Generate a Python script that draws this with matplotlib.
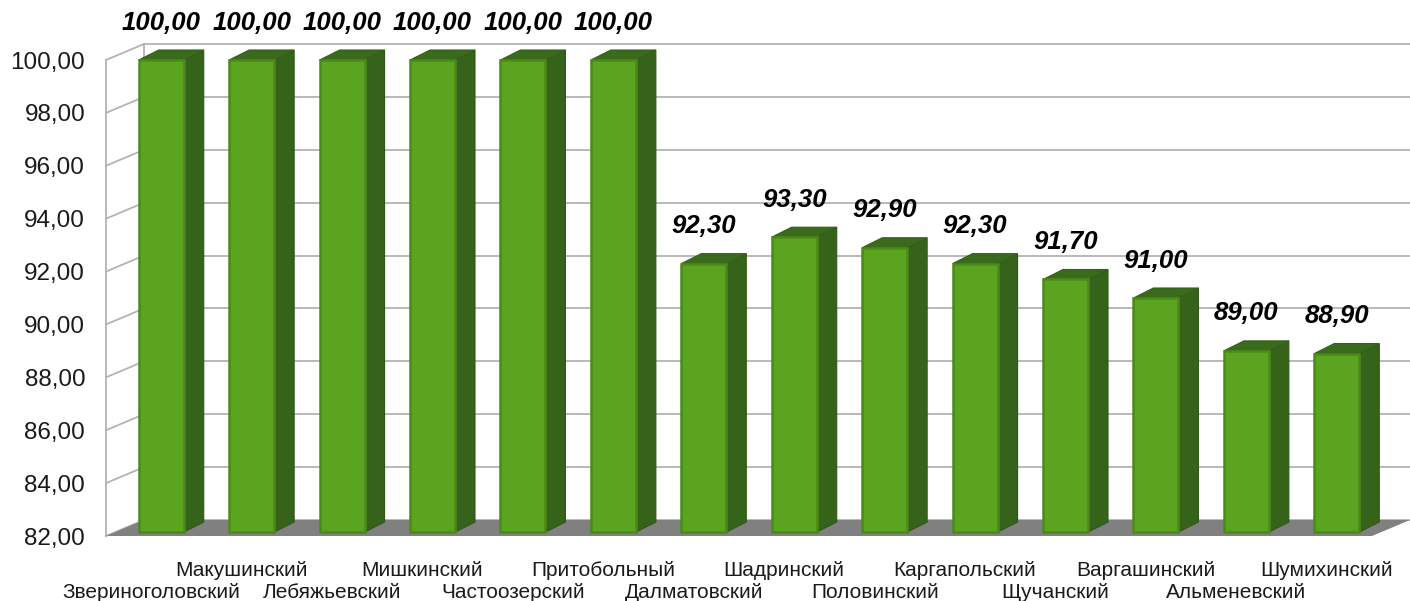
import numpy as np
import matplotlib
matplotlib.use("Agg")
import matplotlib.pyplot as plt
from matplotlib.patches import Polygon, Rectangle

plt.rcParams['font.family'] = ['Liberation Sans', 'DejaVu Sans']

districts = ["Звериноголовский", "Макушинский", "Лебяжьевский", "Мишкинский",
             "Частоозерский", "Притобольный", "Далматовский", "Шадринский",
             "Половинский", "Каргапольский", "Щучанский", "Варгашинский",
             "Альменевский", "Шумихинский"]
values = [100.00, 100.00, 100.00, 100.00, 100.00, 100.00, 92.30,
          93.30, 92.90, 92.30, 91.70, 91.00, 89.00, 88.90]
y_ticks = np.arange(82, 101, 2)

W, H = 1410, 601
fig = plt.figure(figsize=(W / 100, H / 100), dpi=100)
# front plane of the 3d box, in pixels
left, right, bot, top = 106, 1372, 536, 60
ax = fig.add_axes([left / W, (H - bot) / H, (right - left) / W, (bot - top) / H])
n = len(values)
ax.set_xlim(-0.5, n - 0.5)
ax.set_ylim(82, 100)

px_x = (right - left) / n          # pixels per category
px_y = (bot - top) / 18.0          # pixels per unit
wall_dx, wall_dy = 38 / px_x, 16 / px_y   # depth of the whole box
bar_dx, bar_dy = 20 / px_x, 10 / px_y     # depth of one bar
shift = 10 / px_x                          # bars sit a bit back in depth
bw = 45 / px_x
grid_c = '#b3b3b3'

x0, x1 = ax.get_xlim()
# floor
ax.add_patch(Polygon([(x0, 82), (x1, 82), (x1 + wall_dx, 82 + wall_dy), (x0 + wall_dx, 82 + wall_dy)],
                     closed=True, fc='#808080', ec='none', zorder=1, clip_on=False))
# back wall gridlines and left wall
for t in y_ticks:
    ax.plot([x0 + wall_dx, x1 + wall_dx + 0.5], [t + wall_dy, t + wall_dy], color=grid_c, lw=1.3,
            zorder=0.5, clip_on=False)
    ax.plot([x0, x0 + wall_dx], [t, t + wall_dy], color=grid_c, lw=1.3, zorder=0.5, clip_on=False)
ax.plot([x0, x0], [82, 100], color=grid_c, lw=1.3, zorder=0.6, clip_on=False)
ax.plot([x0 + wall_dx, x0 + wall_dx], [82 + wall_dy, 100 + wall_dy], color=grid_c, lw=1.3,
        zorder=0.6, clip_on=False)

bottom = 82.15
for i, v in enumerate(values):
    xl = i + shift - bw / 2
    xr = i + shift + bw / 2
    # side face
    ax.add_patch(Polygon([(xr, bottom), (xr, v), (xr + bar_dx, v + bar_dy), (xr + bar_dx, bottom + bar_dy)],
                         closed=True, fc='#36631a', ec='#2f5716', lw=0.8, zorder=3, clip_on=False))
    # top face
    ax.add_patch(Polygon([(xl, v), (xr, v), (xr + bar_dx, v + bar_dy), (xl + bar_dx, v + bar_dy)],
                         closed=True, fc='#3a6a1b', ec='#33601a', lw=0.8, zorder=3, clip_on=False))
    # front face
    ax.add_patch(Rectangle((xl, bottom), bw, v - bottom, fc='#5ba41f', ec='#4b8a19', lw=1.8,
                           zorder=4, clip_on=False))
    ax.annotate(f"{v:.2f}".replace('.', ','), (i + shift, v), xytext=(0, 27),
                textcoords='offset points', ha='center', va='center', fontsize=18.5,
                fontweight='bold', fontstyle='italic', color='black', annotation_clip=False)
    off = -24.5 if i % 2 else -40.5
    ax.annotate(districts[i], (i, 0), xycoords=('data', 'axes fraction'), xytext=(0, off),
                textcoords='offset points', ha='center', va='center', fontsize=15,
                color='#1a1a1a', annotation_clip=False)

ax.set_yticks(y_ticks)
ax.set_yticklabels([f"{t:.2f}".replace('.', ',') for t in y_ticks], fontsize=17.5, color='#1a1a1a')
ax.tick_params(axis='y', length=0, pad=15)
ax.set_xticks([])
for s in ax.spines.values():
    s.set_visible(False)
ax.patch.set_visible(False)

fig.savefig('out.png', dpi=100)
